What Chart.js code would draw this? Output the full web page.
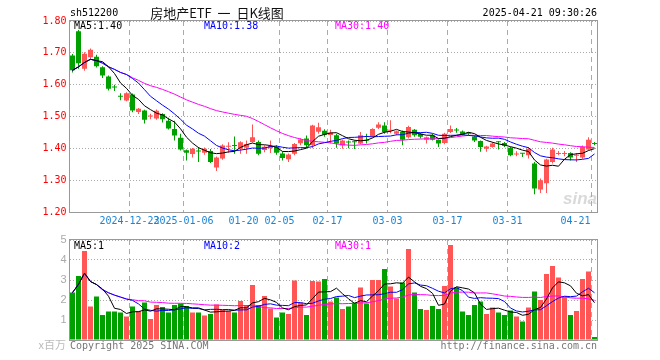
<!DOCTYPE html>
<html>
<head>
<meta charset="utf-8">
<style>
  html, body { margin: 0; padding: 0; background: #fff; }
  #wrap { position: relative; width: 660px; height: 360px; }
  #priceBox { position: absolute; left: 0; top: 0; width: 660px; height: 230px; }
  #volBox { position: absolute; left: 0; top: 230px; width: 660px; height: 130px; }
</style>
<script src="https://cdn.jsdelivr.net/npm/chart.js@4.4.1/dist/chart.umd.min.js"></script>
</head>
<body>
<div id="wrap">
  <div id="priceBox"><canvas id="priceChart"></canvas></div>
  <div id="volBox"><canvas id="volChart"></canvas></div>
</div>
<script>
// trading days shown
const dates = [
  '2024-12-09','2024-12-10','2024-12-11','2024-12-12','2024-12-13','2024-12-16','2024-12-17','2024-12-18','2024-12-19','2024-12-20',
  '2024-12-23','2024-12-24','2024-12-25','2024-12-26','2024-12-27','2024-12-30','2024-12-31','2025-01-02','2025-01-03','2025-01-06',
  '2025-01-07','2025-01-08','2025-01-09','2025-01-10','2025-01-13','2025-01-14','2025-01-15','2025-01-16','2025-01-17','2025-01-20',
  '2025-01-21','2025-01-22','2025-01-23','2025-01-24','2025-01-27','2025-02-05','2025-02-06','2025-02-07','2025-02-10','2025-02-11',
  '2025-02-12','2025-02-13','2025-02-14','2025-02-17','2025-02-18','2025-02-19','2025-02-20','2025-02-21','2025-02-24','2025-02-25',
  '2025-02-26','2025-02-27','2025-02-28','2025-03-03','2025-03-04','2025-03-05','2025-03-06','2025-03-07','2025-03-10','2025-03-11',
  '2025-03-12','2025-03-13','2025-03-14','2025-03-17','2025-03-18','2025-03-19','2025-03-20','2025-03-21','2025-03-24','2025-03-25',
  '2025-03-26','2025-03-27','2025-03-28','2025-03-31','2025-04-01','2025-04-02','2025-04-03','2025-04-07','2025-04-08','2025-04-09',
  '2025-04-10','2025-04-11','2025-04-14','2025-04-15','2025-04-16','2025-04-17','2025-04-18','2025-04-21'
];

const opens = [
  1.692,1.768,1.650,1.686,1.688,1.655,1.626,1.593,1.564,1.550,
  1.569,1.514,1.519,1.500,1.494,1.508,1.487,1.461,1.433,1.394,
  1.382,1.391,1.386,1.392,1.340,1.368,1.405,1.409,1.399,1.402,
  1.420,1.420,1.395,1.400,1.404,1.384,1.366,1.383,1.416,1.431,
  1.410,1.452,1.455,1.442,1.441,1.409,1.420,1.421,1.415,1.426,
  1.437,1.465,1.472,1.455,1.446,1.451,1.435,1.458,1.446,1.427,
  1.441,1.427,1.417,1.451,1.457,1.453,1.447,1.437,1.423,1.399,
  1.404,1.421,1.417,1.402,1.381,1.384,1.378,1.352,1.271,1.290,
  1.357,1.382,1.382,1.385,1.377,1.371,1.396,1.416
];
const highs = [
  1.696,1.772,1.702,1.714,1.694,1.658,1.629,1.600,1.573,1.576,
  1.572,1.527,1.521,1.509,1.522,1.510,1.496,1.487,1.446,1.396,
  1.401,1.404,1.403,1.398,1.374,1.413,1.419,1.437,1.422,1.425,
  1.475,1.425,1.410,1.425,1.410,1.390,1.384,1.417,1.432,1.440,
  1.474,1.480,1.460,1.458,1.446,1.428,1.425,1.425,1.451,1.446,
  1.463,1.482,1.482,1.488,1.456,1.456,1.471,1.461,1.449,1.437,
  1.446,1.428,1.449,1.472,1.464,1.456,1.451,1.440,1.425,1.408,
  1.420,1.423,1.420,1.404,1.391,1.385,1.404,1.357,1.305,1.367,
  1.402,1.392,1.392,1.388,1.385,1.409,1.435,1.420
];
const lows = [
  1.638,1.650,1.644,1.682,1.654,1.621,1.582,1.580,1.551,1.548,
  1.513,1.508,1.478,1.491,1.490,1.481,1.459,1.425,1.393,1.362,
  1.371,1.357,1.380,1.354,1.329,1.364,1.386,1.383,1.383,1.383,
  1.418,1.378,1.388,1.385,1.380,1.362,1.357,1.378,1.410,1.400,
  1.400,1.446,1.436,1.415,1.402,1.399,1.400,1.398,1.413,1.415,
  1.435,1.461,1.446,1.447,1.441,1.410,1.431,1.436,1.431,1.415,
  1.425,1.404,1.413,1.448,1.449,1.440,1.441,1.420,1.389,1.389,
  1.402,1.396,1.404,1.375,1.375,1.373,1.368,1.256,1.260,1.260,
  1.352,1.378,1.375,1.362,1.357,1.367,1.394,1.410
];
const closes = [
  1.645,1.667,1.697,1.710,1.658,1.629,1.587,1.591,1.562,1.573,
  1.519,1.524,1.490,1.502,1.518,1.491,1.462,1.440,1.396,1.386,
  1.399,1.390,1.399,1.357,1.371,1.409,1.408,1.407,1.419,1.414,
  1.435,1.383,1.405,1.407,1.386,1.370,1.381,1.414,1.428,1.410,
  1.472,1.466,1.443,1.450,1.415,1.425,1.418,1.419,1.441,1.424,
  1.461,1.475,1.451,1.457,1.454,1.427,1.467,1.441,1.436,1.435,
  1.427,1.415,1.446,1.461,1.456,1.443,1.446,1.425,1.404,1.406,
  1.415,1.419,1.408,1.378,1.383,1.383,1.399,1.274,1.300,1.365,
  1.396,1.384,1.384,1.371,1.379,1.404,1.427,1.414
];
// volume, millions
const volumes = [
  2.37,3.20,4.45,1.67,2.17,1.25,1.42,1.42,1.37,1.17,
  1.67,1.45,1.87,1.05,1.75,1.65,1.37,1.75,1.83,1.70,
  1.38,1.37,1.22,1.30,1.78,1.50,1.45,1.38,1.95,1.75,
  2.75,1.75,2.20,1.58,1.12,1.37,1.30,2.97,1.88,1.25,
  2.95,2.92,3.05,1.92,2.12,1.55,1.67,1.88,2.62,1.83,
  3.00,3.00,3.55,2.67,2.08,2.87,4.55,2.37,1.55,1.50,
  1.70,1.55,2.70,4.75,2.62,1.42,1.25,1.75,1.92,1.30,
  1.62,1.37,1.25,1.47,1.17,0.92,1.62,2.42,2.00,3.30,
  3.70,3.12,2.17,1.25,1.45,3.05,3.42,0.15
];

const axisDates = ['2024-12-23','2025-01-06','2025-01-20','2025-02-05','2025-02-17','2025-03-03','2025-03-17','2025-03-31','2025-04-21'];
const axisLabels = ['2024-12-23','2025-01-06','01-20','02-05','02-17','03-03','03-17','03-31','04-21'];
const gridDates = ['2024-12-23','2025-01-06','2025-02-05','2025-02-17','2025-03-03','2025-03-17','2025-03-31','2025-04-21'];

const UP = '#ff5555';
const DOWN = '#00a000';
const MONO = '"DejaVu Sans Mono", monospace';

function movingAvg(arr, n) {
    return arr.map((v, i) => {
        const from = Math.max(0, i - n + 1);
        const part = arr.slice(from, i + 1);
        return part.reduce((s, x) => s + x, 0) / part.length;
    });
}

const candleColors = closes.map((c, i) => c > opens[i] ? UP : DOWN);
const gridIdx = gridDates.map(d => dates.indexOf(d));

function txt(ctx, s, x, y, color, font, align) {
    ctx.fillStyle = color;
    ctx.font = font;
    ctx.textAlign = align || 'left';
    ctx.textBaseline = 'middle';
    ctx.fillText(s, x, y);
}

function frame(ctx, a) {
    ctx.strokeStyle = '#999';
    ctx.lineWidth = 1;
    const l = Math.floor(a.left) + 0.5, t = Math.floor(a.top) - 0.5;
    const r = Math.floor(a.right) + 0.5, b = Math.floor(a.bottom) + 0.5;
    ctx.strokeRect(l, t, r - l, b - t);
}

function xAxis() {
    return {
        type: 'category',
        offset: true,
        grid: {
            offset: true,
            drawTicks: false,
            color: c => gridIdx.includes(c.index) ? '#aaa' : 'rgba(0,0,0,0)'
        },
        border: { display: false, dash: [5, 4] },
        ticks: { display: false, autoSkip: false },
        afterFit: s => { s.height = 0; }
    };
}

const pricePlugin = {
    id: 'priceDecor',
    afterDraw(chart) {
        const { ctx, chartArea: a, scales: { x } } = chart;
        ctx.save();
        frame(ctx, a);
        txt(ctx, 'sh512200', 70, 13, '#000', '10px ' + MONO);
        txt(ctx, '房地产ETF  一  日K线图', 217, 13, '#111', '13px "Noto Sans CJK SC"', 'center');
        txt(ctx, '2025-04-21 09:30:26', 597, 13, '#000', '10px ' + MONO, 'right');
        txt(ctx, 'MA5:1.40', 74, 26, '#000', '10px ' + MONO);
        txt(ctx, 'MA10:1.38', 204, 26, '#0000ff', '10px ' + MONO);
        txt(ctx, 'MA30:1.40', 335, 26, '#ff00ff', '10px ' + MONO);
        // date labels at the grid positions
        ctx.font = '10px ' + MONO;
        const half = (x.right - x.left) / dates.length / 2;
        axisDates.forEach((d, k) => {
            const lab = axisLabels[k];
            const w = ctx.measureText(lab).width;
            let cx = x.getPixelForValue(dates.indexOf(d)) - half;
            cx = Math.min(cx, a.right - 7 - w / 2);
            txt(ctx, lab, cx, 221, '#1a84d6', '10px ' + MONO, 'center');
        });
        // faint watermark
        txt(ctx, 'sina', 597, 199, 'rgba(170,170,170,0.45)', 'italic bold 17px "Liberation Sans"', 'right');
        ctx.restore();
    }
};

const volPlugin = {
    id: 'volDecor',
    afterDraw(chart) {
        const { ctx, chartArea: a } = chart;
        ctx.save();
        frame(ctx, a);
        txt(ctx, 'MA5:1', 74, 16, '#000', '10px ' + MONO);
        txt(ctx, 'MA10:2', 204, 16, '#0000ff', '10px ' + MONO);
        txt(ctx, 'MA30:1', 335, 16, '#ff00ff', '10px ' + MONO);
        txt(ctx, 'x百万', 66, 115, '#bbb', '11px "Noto Sans CJK SC"', 'right');
        txt(ctx, 'Copyright 2025 SINA.COM', 70, 116, '#777', '10px ' + MONO);
        txt(ctx, 'http://finance.sina.com.cn', 597, 116, '#777', '10px ' + MONO, 'right');
        ctx.restore();
    }
};

function lineSet(data, color) {
    return {
        type: 'line', data: data, borderColor: color, borderWidth: 1,
        pointRadius: 0, tension: 0, fill: false, order: 0
    };
}

const common = {
    responsive: true,
    maintainAspectRatio: false,
    animation: false,
    events: [],
    plugins: { legend: { display: false }, tooltip: { enabled: false } }
};

new Chart(document.getElementById('priceChart'), {
    type: 'bar',
    data: {
        labels: dates,
        datasets: [
            lineSet(movingAvg(closes, 5), '#000000'),
            lineSet(movingAvg(closes, 10), '#0000ff'),
            lineSet(movingAvg(closes, 30), '#ff00ff'),
            {
                data: opens.map((o, i) => [o, closes[i]]),
                backgroundColor: candleColors,
                barThickness: 5, minBarLength: 1, grouped: false,
                inflateAmount: 0, borderWidth: 0, order: 1
            },
            {
                data: lows.map((l, i) => [l, highs[i]]),
                backgroundColor: candleColors,
                barThickness: 1, grouped: false,
                inflateAmount: 0, borderWidth: 0, order: 2
            }
        ]
    },
    options: Object.assign({}, common, {
        layout: { padding: { top: 21, right: 62.5, bottom: 18, left: 0 } },
        scales: {
            x: xAxis(),
            y: {
                min: 1.2, max: 1.8,
                grid: { color: '#aaa', drawTicks: false },
                border: { display: false, dash: [1, 2] },
                ticks: {
                    stepSize: 0.1, padding: 3, color: '#ff0000',
                    font: { family: MONO, size: 10 },
                    callback: v => v.toFixed(2)
                },
                afterFit: s => { s.width = 69.5; }
            }
        }
    }),
    plugins: [pricePlugin]
});

new Chart(document.getElementById('volChart'), {
    type: 'bar',
    data: {
        labels: dates,
        datasets: [
            lineSet(movingAvg(volumes, 5), '#000000'),
            lineSet(movingAvg(volumes, 10), '#0000ff'),
            lineSet(movingAvg(volumes, 30), '#ff00ff'),
            {
                data: volumes,
                backgroundColor: candleColors,
                barThickness: 5, grouped: false,
                inflateAmount: 0, borderWidth: 0, order: 1
            }
        ]
    },
    options: Object.assign({}, common, {
        layout: { padding: { top: 10, right: 62.5, bottom: 20, left: 0 } },
        scales: {
            x: xAxis(),
            y: {
                min: 0, max: 5,
                grid: { color: '#aaa', drawTicks: false },
                border: { display: false, dash: [1, 2] },
                ticks: {
                    stepSize: 1, padding: 3, color: '#aaa',
                    font: { family: '"Liberation Sans"', size: 11 },
                    callback: v => v === 0 ? '' : v
                },
                afterFit: s => { s.width = 69.5; }
            }
        }
    }),
    plugins: [volPlugin]
});
</script>
</body>
</html>
